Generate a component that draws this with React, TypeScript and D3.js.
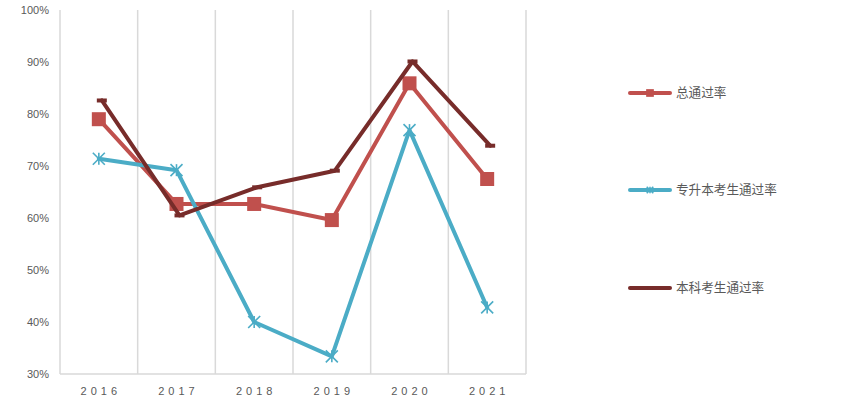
import React from "react";
import * as d3 from "d3";

const years = ["2016", "2017", "2018", "2019", "2020", "2021"];
const totalRate = [79.0, 62.7, 62.7, 59.6, 85.9, 67.5];
const upgradeRate = [71.4, 69.2, 40.0, 33.4, 76.9, 42.8];
const bachelorRate = [82.6, 60.5, 65.9, 69.1, 90.1, 73.9];
const yTicks = [30, 40, 50, 60, 70, 80, 90, 100];
const seriesNames = ["总通过率", "专升本考生通过率", "本科考生通过率"];

const W = 842, H = 407;
const left = 60, right = 526, top = 10, bottom = 374;
const grid = "#D9D9D9";
const txt = "#595959";
const colors = ["#C0504D", "#4BACC6", "#772C2A"];

export default function App() {
  const x = d3.scaleBand().domain(years).range([left, right]);
  const y = d3.scaleLinear().domain([30, 100]).range([bottom, top]);
  const cx = (yr: string) => (x(yr) as number) + x.bandwidth() / 2;

  const series = [
    { name: seriesNames[0], data: totalRate, color: colors[0], marker: "square", dx: 0 },
    { name: seriesNames[1], data: upgradeRate, color: colors[1], marker: "star", dx: 0 },
    { name: seriesNames[2], data: bachelorRate, color: colors[2], marker: "dash", dx: 3 },
  ];

  const lineGen = (data: number[], dx: number) =>
    d3.line<number>().x((_, i) => cx(years[i]) + dx).y((v) => y(v))(data) || "";

  const marker = (kind: string, px: number, py: number, color: string, key: string, s = 1) => {
    if (kind === "square") {
      const sz = 14 * s;
      return <rect key={key} x={px - sz / 2} y={py - sz / 2} width={sz} height={sz} fill={color} />;
    }
    if (kind === "star") {
      const r = 6 * s;
      return (
        <g key={key} stroke={color} strokeWidth={1.6} fill="none">
          <line x1={px - r} y1={py - r} x2={px + r} y2={py + r} />
          <line x1={px - r} y1={py + r} x2={px + r} y2={py - r} />
          <line x1={px} y1={py - r} x2={px} y2={py + r} />
        </g>
      );
    }
    const w = 10 * s, h = 4;
    return <rect key={key} x={px - w / 2} y={py - h / 2} width={w} height={h} fill={color} />;
  };

  const legendY = [93, 190, 288];

  return (
    <svg width={W} height={H} style={{ position: "absolute", left: 0, top: 0, background: "#fff" }}
      fontFamily="'Liberation Sans', Arial, sans-serif">
      {d3.range(years.length + 1).map((i) => {
        const gx = left + i * x.bandwidth();
        return <line key={"g" + i} x1={gx} x2={gx} y1={top} y2={bottom} stroke={grid} strokeWidth={1.5} />;
      })}
      <line x1={left} x2={right} y1={bottom} y2={bottom} stroke={grid} strokeWidth={1.5} />
      {yTicks.map((t) => (
        <text key={"y" + t} x={49} y={y(t)} dy="0.35em" textAnchor="end" fontSize={11} fill={txt}>
          {t}%
        </text>
      ))}
      {years.map((yr) => (
        <text key={"x" + yr} x={cx(yr) + 2} y={395} textAnchor="middle" fontSize={11} fill={txt}
          letterSpacing={4}>
          {yr}
        </text>
      ))}
      {series.map((s, si) => (
        <g key={"s" + si}>
          <path d={lineGen(s.data, s.dx)} fill="none" stroke={s.color} strokeWidth={4}
            strokeLinejoin="round" strokeLinecap="round" />
          {s.data.map((v, i) => marker(s.marker, cx(years[i]) + s.dx, y(v), s.color, `m${si}-${i}`))}
        </g>
      ))}
      {series.map((s, si) => (
        <g key={"l" + si}>
          <line x1={630} x2={670} y1={legendY[si]} y2={legendY[si]} stroke={s.color} strokeWidth={4}
            strokeLinecap="round" />
          {marker(s.marker, 650, legendY[si], s.color, "lm" + si, 0.55)}
          <text x={676} y={legendY[si]} dy="0.35em" fontSize={12.6} fill={txt}
            fontFamily="'Noto Sans CJK SC', sans-serif">
            {s.name}
          </text>
        </g>
      ))}
    </svg>
  );
}
